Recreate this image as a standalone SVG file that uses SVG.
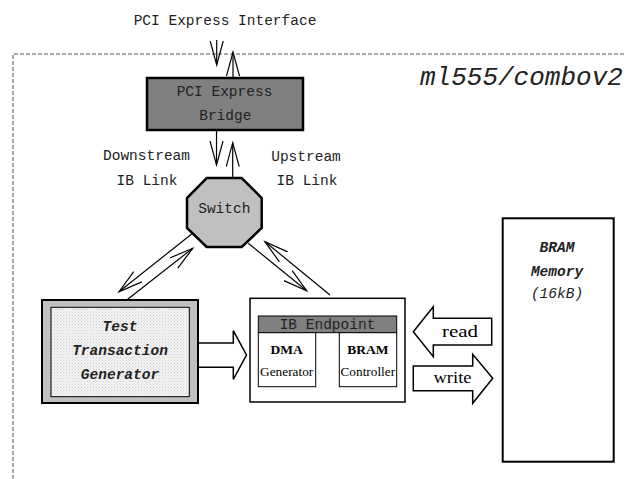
<svg xmlns="http://www.w3.org/2000/svg" width="626" height="479" viewBox="0 0 626 479">
<style>
.mono{font-family:"Liberation Mono","Courier New",monospace;font-size:14.5px;fill:#222;text-anchor:middle}
.bi{font-weight:bold;font-style:italic}
.serif{font-family:"Liberation Serif","Times New Roman",serif;fill:#000;text-anchor:middle}
.ln{stroke:#000;stroke-width:1.2;fill:none;marker-end:url(#v)}
.blk{fill:#fff;stroke:#000;stroke-width:1.5}
</style>
<defs>
<marker id="v" markerUnits="userSpaceOnUse" markerWidth="28" markerHeight="16" refX="24" refY="7" orient="auto" viewBox="0 0 28 16">
<path d="M0,0.5 L24,7 L0,13.5" fill="none" stroke="#000" stroke-width="1.2"/>
</marker>
<pattern id="dots" width="3" height="3" patternUnits="userSpaceOnUse">
<rect width="3" height="3" fill="#f2f2f2"/>
<rect x="0" y="0" width="1" height="1" fill="#cfcfcf"/>
<rect x="1.5" y="1.5" width="1" height="1" fill="#dedede"/>
</pattern>
</defs>
<rect width="626" height="479" fill="#fff"/>
<g id="frame">
<path d="M13,479 L13,54 L626,54" fill="none" stroke="#555" stroke-width="1" stroke-dasharray="4,2"/>
<text x="420" y="85" font-family="Liberation Mono,Courier New,monospace" font-size="26" font-style="italic" fill="#222">ml555/combov2</text>
<text class="mono" x="225" y="25">PCI Express Interface</text>
</g>
<g id="connectors">
<line class="ln" x1="216.7" y1="40" x2="216.7" y2="65"/>
<line class="ln" x1="233" y1="78" x2="233" y2="52"/>
<line class="ln" x1="216.5" y1="130" x2="216.5" y2="165"/>
<line class="ln" x1="232.7" y1="178" x2="232.7" y2="142.7"/>
<line class="ln" x1="191.7" y1="234" x2="119" y2="291.7"/>
<line class="ln" x1="127.7" y1="299.3" x2="192.7" y2="248.3"/>
<line class="ln" x1="248.3" y1="243.3" x2="306.7" y2="290.7"/>
<line class="ln" x1="330" y1="295" x2="265" y2="241.7"/>
<polygon class="blk" points="197.7,343 233.3,343 233.3,330.7 246.5,355 233.3,379.3 233.3,367.3 197.7,367.3"/>
<polygon class="blk" points="491.7,318.3 433.3,318.3 433.3,306.7 413.3,331.7 433.3,356.7 433.3,345 491.7,345"/>
<polygon class="blk" points="413.3,366 472.7,366 472.7,354.3 492.7,378.3 472.7,403.3 472.7,390.7 413.3,390.7"/>
<text class="serif" x="460" y="336.7" font-size="17" textLength="36" lengthAdjust="spacingAndGlyphs">read</text>
<text class="serif" x="452.5" y="383.3" font-size="17" textLength="38" lengthAdjust="spacingAndGlyphs">write</text>
<text class="mono" x="146.5" y="160">Downstream</text>
<text class="mono" x="147" y="185">IB Link</text>
<text class="mono" x="306" y="161">Upstream</text>
<text class="mono" x="307" y="185">IB Link</text>
</g>
<g id="bridge">
<rect x="147" y="78" width="156" height="52" fill="#808080" stroke="#000" stroke-width="2.5"/>
<text class="mono" x="224.5" y="96">PCI Express</text>
<text class="mono" x="225.3" y="120">Bridge</text>
</g>
<g id="switch">
<polygon points="206.7,178 241.7,178 261.7,198 261.7,228 241.7,247 206.7,247 187,228 187,198" fill="#c0c0c0" stroke="#000" stroke-width="2.5"/>
<text class="mono" x="224.3" y="213">Switch</text>
</g>
<g id="ttg">
<rect x="42" y="300" width="156" height="103" fill="#c0c0c0" stroke="#000" stroke-width="2"/>
<rect x="51" y="307.3" width="138.3" height="89.4" fill="url(#dots)" stroke="#000" stroke-width="1"/>
<text class="mono bi" x="120" y="330.7">Test</text>
<text class="mono bi" x="120" y="355">Transaction</text>
<text class="mono bi" x="120" y="379">Generator</text>
</g>
<g id="ib-endpoint">
<rect x="250" y="298.3" width="155" height="103.7" fill="#fff" stroke="#000" stroke-width="1.5"/>
<rect x="258.3" y="316" width="138.4" height="16.7" fill="#808080" stroke="#000" stroke-width="1"/>
<text class="mono" x="327.5" y="329.3">IB Endpoint</text>
<rect x="258.3" y="332.7" width="57.4" height="54" fill="#fff" stroke="#000" stroke-width="1"/>
<rect x="339.3" y="332.7" width="57.4" height="54" fill="#fff" stroke="#000" stroke-width="1"/>
<text class="serif" x="286.7" y="354" font-size="13.5" font-weight="bold">DMA</text>
<text class="serif" x="286.7" y="375.7" font-size="13.3">Generator</text>
<text class="serif" x="367.8" y="354" font-size="13.5" font-weight="bold">BRAM</text>
<text class="serif" x="367.8" y="375.7" font-size="13.3">Controller</text>
</g>
<g id="bram-memory">
<rect x="502.7" y="218.3" width="111" height="243.4" fill="#fff" stroke="#000" stroke-width="2"/>
<text class="mono bi" x="557" y="251.7">BRAM</text>
<text class="mono bi" x="557" y="276">Memory</text>
<text class="mono" x="557" y="298.3" font-style="italic" fill="#444">(16kB)</text>
</g>
</svg>
